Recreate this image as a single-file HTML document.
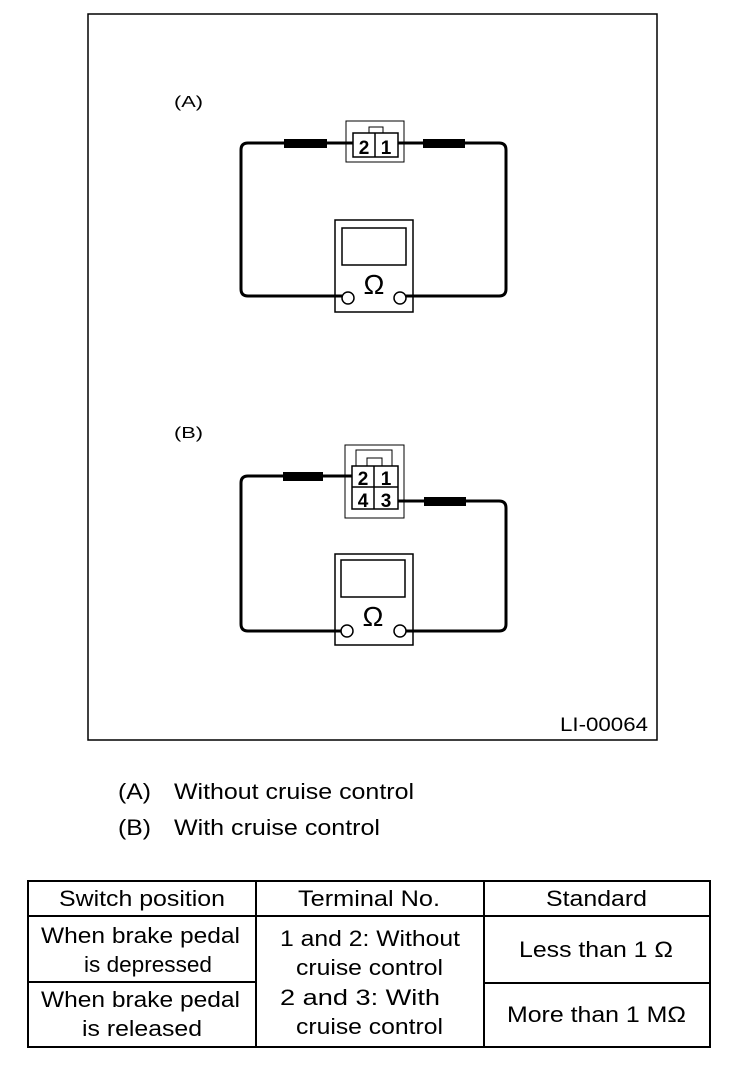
<!DOCTYPE html>
<html><head><meta charset="utf-8"><style>
body{margin:0;background:#fff;width:752px;height:1066px;overflow:hidden;font-family:"Liberation Sans",sans-serif;}
svg{position:absolute;left:0;top:0}
</style></head><body>
<svg width="752" height="1066" viewBox="0 0 752 1066" xmlns="http://www.w3.org/2000/svg" font-family="Liberation Sans, sans-serif">
<rect x="88" y="14" width="569" height="726" fill="none" stroke="#000" stroke-width="1.5"/>
<text x="174" y="107" font-size="16" textLength="29" lengthAdjust="spacingAndGlyphs">(A)</text>
<text x="174" y="438" font-size="16" textLength="29" lengthAdjust="spacingAndGlyphs">(B)</text>
<text x="560" y="731" font-size="19" textLength="88" lengthAdjust="spacingAndGlyphs">LI-00064</text>

<!-- Diagram A -->
<g fill="none" stroke="#000">
<path d="M353 143 H248 Q241 143 241 150 V289 Q241 296 248 296 H342" stroke-width="3"/>
<path d="M398 143 H499 Q506 143 506 150 V289 Q506 296 499 296 H406" stroke-width="3"/>
<rect x="346" y="121" width="58" height="41" stroke-width="1"/>
<rect x="353" y="133" width="45" height="24" stroke-width="1.5"/>
<line x1="375" y1="133" x2="375" y2="157" stroke-width="1.5"/>
<rect x="369" y="127" width="14" height="6" stroke-width="1"/>
<rect x="335" y="220" width="78" height="92" stroke-width="1.5"/>
<rect x="342" y="228" width="64" height="37" stroke-width="1.5"/>
<circle cx="348" cy="298" r="6" fill="#fff" stroke-width="1.5"/>
<circle cx="400" cy="298" r="6" fill="#fff" stroke-width="1.5"/>
</g>
<rect x="284" y="139" width="43" height="9" fill="#000"/>
<rect x="423" y="139" width="42" height="9" fill="#000"/>
<text x="364" y="154" font-size="19" font-weight="bold" text-anchor="middle">2</text>
<text x="386" y="154" font-size="19" font-weight="bold" text-anchor="middle">1</text>
<text x="374" y="294" font-size="28" text-anchor="middle">Ω</text>

<!-- Diagram B -->
<g fill="none" stroke="#000">
<path d="M352 476 H248 Q241 476 241 483 V624 Q241 631 248 631 H342" stroke-width="3"/>
<path d="M398 501 H499 Q506 501 506 508 V624 Q506 631 499 631 H406" stroke-width="3"/>
<path d="M345 445 H404 V518 H345 Z" stroke-width="1"/>
<rect x="356" y="450" width="36" height="16" stroke-width="1"/>
<rect x="367" y="458" width="15" height="8" stroke-width="1"/>
<rect x="352" y="466" width="46" height="43" stroke-width="1.5"/>
<line x1="374" y1="466" x2="374" y2="509" stroke-width="1.5"/>
<line x1="352" y1="487" x2="398" y2="487" stroke-width="1.5"/>
<rect x="335" y="554" width="78" height="91" stroke-width="1.5"/>
<rect x="341" y="560" width="64" height="37" stroke-width="1.5"/>
<circle cx="347" cy="631" r="6" fill="#fff" stroke-width="1.5"/>
<circle cx="400" cy="631" r="6" fill="#fff" stroke-width="1.5"/>
</g>
<rect x="283" y="472" width="40" height="9" fill="#000"/>
<rect x="424" y="497" width="42" height="9" fill="#000"/>
<text x="363" y="485" font-size="19" font-weight="bold" text-anchor="middle">2</text>
<text x="386" y="485" font-size="19" font-weight="bold" text-anchor="middle">1</text>
<text x="363" y="507" font-size="19" font-weight="bold" text-anchor="middle">4</text>
<text x="386" y="507" font-size="19" font-weight="bold" text-anchor="middle">3</text>
<text x="373" y="626" font-size="28" text-anchor="middle">Ω</text>

<!-- Legend -->
<text x="118" y="799" font-size="22" textLength="33" lengthAdjust="spacingAndGlyphs">(A)</text>
<text x="174" y="799" font-size="22" textLength="240" lengthAdjust="spacingAndGlyphs">Without cruise control</text>
<text x="118" y="835" font-size="22" textLength="33" lengthAdjust="spacingAndGlyphs">(B)</text>
<text x="174" y="835" font-size="22" textLength="206" lengthAdjust="spacingAndGlyphs">With cruise control</text>

<!-- Table -->
<g fill="none" stroke="#000" stroke-width="2">
<rect x="28" y="881" width="682" height="166"/>
<line x1="28" y1="916" x2="710" y2="916"/>
<line x1="256" y1="881" x2="256" y2="1047"/>
<line x1="484" y1="881" x2="484" y2="1047"/>
<line x1="28" y1="982" x2="256" y2="982"/>
<line x1="484" y1="983" x2="710" y2="983"/>
</g>
<g font-size="22" lengthAdjust="spacingAndGlyphs">
<text x="59" y="906" textLength="166" lengthAdjust="spacingAndGlyphs">Switch position</text>
<text x="298" y="906" textLength="142" lengthAdjust="spacingAndGlyphs">Terminal No.</text>
<text x="546" y="906" textLength="101" lengthAdjust="spacingAndGlyphs">Standard</text>
<text x="41" y="943" textLength="199" lengthAdjust="spacingAndGlyphs">When brake pedal</text>
<text x="84" y="972" textLength="128" lengthAdjust="spacingAndGlyphs">is depressed</text>
<text x="41" y="1007" textLength="199" lengthAdjust="spacingAndGlyphs">When brake pedal</text>
<text x="82" y="1036" textLength="120" lengthAdjust="spacingAndGlyphs">is released</text>
<text x="280" y="946" textLength="180" lengthAdjust="spacingAndGlyphs">1 and 2: Without</text>
<text x="296" y="975" textLength="147" lengthAdjust="spacingAndGlyphs">cruise control</text>
<text x="280" y="1005" textLength="160" lengthAdjust="spacingAndGlyphs">2 and 3: With</text>
<text x="296" y="1034" textLength="147" lengthAdjust="spacingAndGlyphs">cruise control</text>
<text x="519" y="957" textLength="154" lengthAdjust="spacingAndGlyphs">Less than 1 Ω</text>
<text x="507" y="1022" textLength="179" lengthAdjust="spacingAndGlyphs">More than 1 MΩ</text>
</g>
</svg>
</body></html>
